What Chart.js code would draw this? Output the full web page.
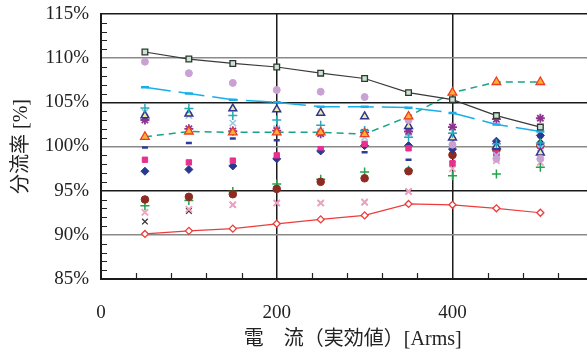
<!DOCTYPE html>
<html>
<head>
<meta charset="utf-8">
<script src="https://cdn.jsdelivr.net/npm/chart.js@4/dist/chart.umd.min.js"></script>
<style>
  html, body { margin: 0; padding: 0; background: #fff; overflow: hidden; }
  #wrap { width: 587px; height: 353px; overflow: hidden; }
  canvas { display: block; }
</style>
</head>
<body>
<div id="wrap"><canvas id="c" width="611" height="353"></canvas></div>
<script>
// Current (rms) at each measuring step
const currents = [50, 100, 150, 200, 250, 300, 350, 400, 450, 500];

// Series drawn with connecting lines
const ratioSquareLine    = [110.7, 109.9, 109.4, 109.0, 108.3, 107.7, 106.1, 105.3, 103.5, 102.2];
const ratioCyanLine      = [106.7, 106.0, 105.3, 105.0, 104.5, 104.5, 104.4, 103.8, 102.5, 101.7];
const ratioTriangleDash  = [101.1, 101.7, 101.6, 101.6, 101.6, 101.4, 103.4, 106.1, 107.3, 107.3];
const ratioDiamondLine   = [90.1, 90.45, 90.7, 91.25, 91.75, 92.2, 93.5, 93.4, 93.0, 92.5];

// Series drawn as markers only
const ratioLilacCircle   = [109.6, 108.3, 107.2, 106.4, 106.2, 105.6, 103.0, 100.2, 98.6, 98.6];
const ratioTealPlus      = [104.35, 104.3, 103.5, 103.0, 102.4, 101.8, 101.05, 101.5, 100.3, 100.4];
const ratioNavyTriangle  = [103.5, 103.7, 104.3, 104.2, 103.8, 103.4, 102.3, 101.0, 100.0, 99.3];
const ratioPurpleStar    = [103.0, 102.0, 101.75, 101.8, 101.45, 101.6, 101.7, 102.2, 103.1, 103.2];
const ratioPaleBlueCross = [103.9, 103.5, 102.65, 102.0, 101.7, 101.05, 101.5, 101.25, 99.0, 99.8];
const ratioNavyDash      = [99.9, 100.4, 100.9, 100.7, 99.4, 99.35, 98.5, 100.0, 100.5, 100.3];
const ratioMagentaSquare = [98.5, 98.2, 98.4, 99.0, 99.7, 100.3, 99.8, 98.1, 99.2, 100.1];
const ratioBlueDiamond   = [97.2, 97.4, 97.8, 98.6, 99.5, 100.1, 100.1, 99.7, 100.6, 101.25];
const ratioBrownCircle   = [94.0, 94.3, 94.6, 95.2, 96.0, 96.4, 97.2, 99.05, 99.6, 100.1];
const ratioGreenPlus     = [93.3, 93.9, 94.9, 95.75, 96.3, 97.1, 97.3, 96.7, 96.9, 97.65];
const ratioPinkCross     = [92.55, 92.9, 93.4, 93.6, 93.6, 93.7, 94.9, 97.5, 98.4, 98.2];
const ratioBlackCross    = [91.5, 92.7, 93.4, 93.6, 93.6, 93.7, 94.9, 98.0, 99.3, 100.8];

// Axis ranges and tick values
const xMin = 0, xMax = 573, xMinorStep = 40;
const xTickValues = [0, 200, 400];
const yMin = 85, yMax = 115, yStep = 5, yMinorStep = 1;

const pts = arr => arr.map((v, i) => ({ x: currents[i], y: v }));

function markers(label, data, style, border, fill, radius, width) {
  return {
    label, data: pts(data), showLine: false,
    pointStyle: style, pointRadius: radius, pointHoverRadius: radius,
    borderColor: border, backgroundColor: fill, pointBorderWidth: width
  };
}

const datasets = [
  {
    label: 'square', data: pts(ratioSquareLine), showLine: true,
    borderColor: '#3a3a3a', borderWidth: 1.2,
    pointStyle: 'rect', pointRadius: 4, pointBorderColor: '#333',
    pointBackgroundColor: '#c6e6cf', pointBorderWidth: 1.3
  },
  {
    label: 'cyan', data: pts(ratioCyanLine), showLine: true,
    borderColor: '#18aeea', borderWidth: 1.5, borderDash: [26, 8],
    pointStyle: 'line', pointRadius: 4, pointBorderColor: '#18aeea', pointBorderWidth: 2.5
  },
  {
    label: 'triangle', data: pts(ratioTriangleDash), showLine: true,
    borderColor: '#17a486', borderWidth: 1.5, borderDash: [7, 5],
    pointStyle: 'triangle', pointRadius: 5, pointBorderColor: '#f03a22',
    pointBackgroundColor: '#f7b233', pointBorderWidth: 1.3
  },
  {
    label: 'diamond', data: pts(ratioDiamondLine), showLine: true,
    borderColor: '#ee3b3b', borderWidth: 1.2,
    pointStyle: 'rectRot', pointRadius: 3.5, pointBorderColor: '#ee3b3b',
    pointBackgroundColor: '#ffffff', pointBorderWidth: 1.3
  },
  markers('lilac', ratioLilacCircle, 'circle', '#c9a2d3', '#c9a2d3', 3.5, 1),
  markers('teal', ratioTealPlus, 'cross', '#26a9b9', '#26a9b9', 4.5, 1.5),
  markers('navyTri', ratioNavyTriangle, 'triangle', '#2e3592', '#eeeaa8', 4.5, 1.5),
  markers('purple', ratioPurpleStar, 'star', '#8e338f', '#8e338f', 4.5, 1.8),
  markers('paleBlue', ratioPaleBlueCross, 'crossRot', '#94c6ea', '#94c6ea', 4.5, 1.5),
  markers('navyDash', ratioNavyDash, 'line', '#2d3b9a', '#2d3b9a', 3, 2.5),
  markers('magenta', ratioMagentaSquare, 'rect', '#e8308f', '#e8308f', 3.8, 1),
  markers('blue', ratioBlueDiamond, 'rectRot', '#283790', '#283790', 4, 1),
  markers('brown', ratioBrownCircle, 'circle', '#8d2b23', '#8d2b23', 3.8, 1),
  markers('green', ratioGreenPlus, 'cross', '#22a24a', '#22a24a', 4.5, 1.5),
  markers('pink', ratioPinkCross, 'crossRot', '#f2a2c2', '#f2a2c2', 4.5, 1.8),
  markers('black', ratioBlackCross, 'crossRot', '#333333', '#333333', 4, 1.3)
];

// Small inward tick marks between the labelled grid lines
const minorTicks = {
  id: 'minorTicks',
  afterDatasetsDraw(chart) {
    const { ctx, chartArea, scales } = chart;
    ctx.save();
    ctx.strokeStyle = '#222';
    ctx.lineWidth = 1.2;
    ctx.beginPath();
    for (let v = yMin + yMinorStep; v < yMax; v += yMinorStep) {
      if (v % yStep === 0) continue;
      const py = Math.round(scales.y.getPixelForValue(v)) + 0.5;
      ctx.moveTo(chartArea.left, py);
      ctx.lineTo(chartArea.left + 6, py);
    }
    for (let v = xMin + xMinorStep; v < xMax; v += xMinorStep) {
      if (xTickValues.includes(v)) continue;
      const px = Math.round(scales.x.getPixelForValue(v)) + 0.5;
      ctx.moveTo(px, chartArea.bottom);
      ctx.lineTo(px, chartArea.bottom - 6);
    }
    ctx.stroke();
    ctx.restore();
  }
};

const serif = '"Liberation Serif", "DejaVu Serif", serif';
const titleFamily = '"Liberation Serif", "Noto Sans CJK JP", serif';

new Chart(document.getElementById('c'), {
  type: 'scatter',
  data: { datasets },
  plugins: [minorTicks],
  options: {
    responsive: false,
    animation: false,
    layout: { padding: { top: 14, right: 0, left: 0, bottom: 0 } },
    plugins: { legend: { display: false }, tooltip: { enabled: false } },
    scales: {
      x: {
        type: 'linear', min: xMin, max: xMax,
        afterFit(scale) { scale.height = 74; scale.paddingLeft = 0; scale.paddingRight = 0; },
        afterBuildTicks(scale) { scale.ticks = xTickValues.map(v => ({ value: v })); },
        ticks: { padding: 23, color: '#222', font: { family: serif, size: 19 }, maxRotation: 0 },
        grid: { color: '#1a1a1a', lineWidth: 1.5, drawTicks: false },
        border: { color: '#1a1a1a', width: 2 },
        title: {
          display: true, text: '電　流（実効値）[Arms]', color: '#222',
          font: { family: titleFamily, size: 20 },
          padding: { top: 0, bottom: 1 }
        }
      },
      y: {
        min: yMin, max: yMax,
        afterFit(scale) { scale.width = 101; scale.paddingTop = 0; scale.paddingBottom = 0; },
        ticks: {
          stepSize: yStep, padding: 12, color: '#222',
          font: { family: serif, size: 19 },
          callback: v => v + '%'
        },
        grid: {
          drawTicks: false, lineWidth: 1.6,
          color: c => (c.tick && c.tick.value % 10 === 0 && c.tick.value !== yMin) ? '#8a8a8a' : '#1a1a1a'
        },
        border: { color: '#1a1a1a', width: 2 },
        title: {
          display: true, text: '分流率 [%]', color: '#222',
          font: { family: titleFamily, size: 20 },
          padding: { top: 10, bottom: 0 }
        }
      }
    }
  }
});
</script>
</body>
</html>
